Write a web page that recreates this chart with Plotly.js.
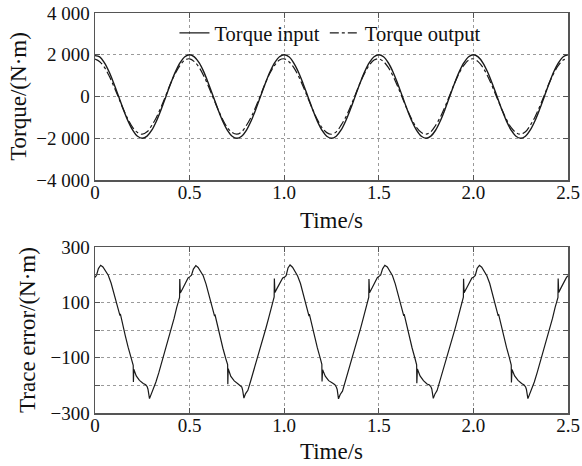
<!DOCTYPE html>
<html>
<head>
<meta charset="utf-8">
<script src="https://cdn.plot.ly/plotly-3.0.1.min.js"></script>
<style>html,body{margin:0;padding:0;background:#fff;}#chart{width:582px;height:466px;}</style>
</head>
<body>
<div id="chart"></div>
<script>
// ---- Data ----
const torqueTime = [0,0.025,0.05,0.075,0.1,0.125,0.15,0.175,0.2,0.225,0.25,0.275,0.3,0.325,0.35,0.375,0.4,0.425,0.45,0.475,
0.5,0.525,0.55,0.575,0.6,0.625,0.65,0.675,0.7,0.725,0.75,0.775,0.8,0.825,0.85,0.875,0.9,0.925,0.95,0.975,
1.0,1.025,1.05,1.075,1.1,1.125,1.15,1.175,1.2,1.225,1.25,1.275,1.3,1.325,1.35,1.375,1.4,1.425,1.45,1.475,
1.5,1.525,1.55,1.575,1.6,1.625,1.65,1.675,1.7,1.725,1.75,1.775,1.8,1.825,1.85,1.875,1.9,1.925,1.95,1.975,
2.0,2.025,2.05,2.075,2.1,2.125,2.15,2.175,2.2,2.225,2.25,2.275,2.3,2.325,2.35,2.375,2.4,2.425,2.45,2.475,2.5];

const torqueInput = [1960,1900,1615,1175,615,0,-620,-1180,-1620,-1905,-2000,-1900,-1615,-1170,-615,5,620,1180,1620,1905,
2000,1900,1618,1178,612,-5,-618,-1178,-1620,-1902,-2000,-1902,-1618,-1172,-612,8,622,1182,1622,1905,
2000,1902,1615,1176,614,-2,-619,-1180,-1618,-1904,-2000,-1901,-1616,-1171,-614,6,621,1181,1620,1904,
2000,1901,1617,1177,613,-3,-620,-1179,-1621,-1903,-2000,-1900,-1617,-1170,-613,7,620,1180,1621,1906,
2000,1900,1616,1175,615,-1,-620,-1181,-1619,-1905,-2000,-1902,-1615,-1172,-615,5,622,1182,1620,1905,2000];

const torqueOutput = [1790,1668,1393,983,480,-70,-615,-1105,-1492,-1730,-1807,-1692,-1387,-990,-490,63,630,1120,1500,1745,
1805,1670,1396,986,478,-72,-612,-1103,-1495,-1728,-1806,-1694,-1389,-988,-488,66,632,1122,1502,1747,
1806,1668,1392,984,482,-69,-614,-1106,-1493,-1731,-1808,-1693,-1386,-991,-491,64,629,1119,1501,1744,
1804,1671,1395,985,479,-71,-616,-1104,-1494,-1729,-1805,-1691,-1388,-989,-489,65,631,1121,1499,1746,
1805,1669,1394,982,481,-70,-613,-1105,-1491,-1730,-1807,-1692,-1387,-990,-490,63,630,1120,1500,1745,1802];

const errorTime = [
0.000,0.008,0.018,0.030,0.042,0.056,0.070,0.085,0.100,0.115,0.128,0.132,0.134,0.145,0.160,0.175,0.190,0.202,0.203,0.205,0.218,0.235,0.255,0.268,0.276,0.280,0.288,0.297,0.308,0.322,0.337,0.352,0.366,0.380,0.390,0.392,0.404,0.418,0.432,0.447,0.448,0.451,0.465,0.480,0.492,
0.500,0.510,0.520,0.533,0.545,0.558,0.572,0.587,0.602,0.617,0.629,0.632,0.634,0.646,0.661,0.676,0.691,0.701,0.702,0.704,0.718,0.736,0.755,0.768,0.776,0.780,0.787,0.796,0.808,0.822,0.837,0.852,0.866,0.880,0.890,0.892,0.904,0.918,0.932,0.947,0.948,0.951,0.965,0.980,0.992,
1.000,1.010,1.020,1.031,1.044,1.057,1.071,1.086,1.101,1.116,1.128,1.131,1.133,1.145,1.160,1.175,1.190,1.199,1.200,1.203,1.217,1.235,1.255,1.268,1.276,1.280,1.287,1.296,1.308,1.322,1.337,1.352,1.366,1.380,1.390,1.392,1.404,1.418,1.432,1.447,1.448,1.451,1.465,1.480,1.492,
1.500,1.510,1.520,1.532,1.545,1.558,1.572,1.587,1.602,1.617,1.629,1.632,1.634,1.646,1.661,1.676,1.691,1.700,1.701,1.704,1.718,1.736,1.755,1.768,1.776,1.780,1.788,1.797,1.808,1.822,1.837,1.852,1.866,1.880,1.890,1.892,1.904,1.918,1.932,1.947,1.948,1.951,1.965,1.980,1.992,
2.000,2.010,2.020,2.032,2.044,2.057,2.071,2.086,2.101,2.116,2.128,2.131,2.133,2.145,2.160,2.175,2.190,2.200,2.201,2.204,2.218,2.236,2.255,2.268,2.276,2.280,2.288,2.297,2.308,2.322,2.337,2.352,2.366,2.380,2.390,2.392,2.404,2.418,2.432,2.447,2.448,2.451,2.465,2.480,2.492,2.500];

const errorValue = [
190,198,222,234,228,214,198,170,132,92,60,52,58,22,-20,-62,-100,-128,-188,-142,-166,-182,-193,-198,-205,-214,-248,-232,-220,-188,-155,-118,-84,-52,-34,-24,6,42,82,118,184,134,152,172,188,
192,198,220,233,226,213,196,166,128,88,58,50,56,18,-24,-66,-103,-125,-196,-140,-168,-184,-194,-200,-206,-216,-246,-230,-218,-186,-152,-116,-82,-50,-32,-22,8,44,84,120,186,136,154,174,188,
190,196,224,235,227,212,195,168,130,90,58,50,57,20,-22,-64,-101,-124,-186,-144,-167,-183,-192,-198,-207,-215,-249,-233,-221,-189,-154,-117,-83,-51,-33,-23,7,43,83,119,184,135,153,173,189,
193,199,221,234,228,214,197,167,129,89,59,51,57,19,-23,-65,-102,-126,-192,-141,-166,-183,-195,-199,-206,-213,-247,-231,-219,-187,-153,-117,-83,-51,-33,-23,7,43,83,119,185,135,153,173,188,
191,197,223,234,227,213,196,169,131,91,59,51,57,21,-21,-63,-100,-127,-190,-143,-166,-182,-193,-199,-206,-214,-248,-232,-220,-188,-154,-118,-84,-52,-34,-24,6,42,82,118,186,136,155,176,190,196];

const xTickVals = [0,0.5,1,1.5,2,2.5];
const xTickText = ['0','0.5','1.0','1.5','2.0','2.5'];
const y1TickVals = [-4000,-2000,0,2000,4000];
const y1TickText = ['\u22124 000','\u22122 000','0','2 000','4 000'];
const y2TickVals = [-300,-200,-100,0,100,200,300];
const y2TickText = ['\u2212300','','\u2212100','','100','','300'];

// ---- Plot ----
const lineCol = '#1a1a1a';
const traces = [
  {x: torqueTime, y: torqueInput, name: 'Torque input', type: 'scatter', mode: 'lines',
   line: {color: lineCol, width: 1.4, shape: 'spline'}, xaxis: 'x', yaxis: 'y'},
  {x: torqueTime, y: torqueOutput, name: 'Torque output', type: 'scatter', mode: 'lines',
   line: {color: lineCol, width: 1.2, dash: 'dashdot', shape: 'spline'}, xaxis: 'x', yaxis: 'y'},
  {x: errorTime, y: errorValue, name: 'Trace error', type: 'scatter', mode: 'lines', showlegend: false,
   line: {color: lineCol, width: 1.2}, xaxis: 'x2', yaxis: 'y2'}
];

const axisCommon = {
  ticks: 'inside', ticklen: 5, tickwidth: 1, tickcolor: '#555',
  mirror: 'ticks', showline: true, linecolor: '#555', linewidth: 1.5,
  showgrid: true, gridcolor: '#9a9a9a', griddash: 'dot', gridwidth: 1,
  zeroline: false, tickfont: {size: 19, color: '#111'}
};

const layout = {
  width: 582, height: 466,
  margin: {l: 95, r: 14, t: 13, b: 53},
  paper_bgcolor: '#fff', plot_bgcolor: '#fff',
  font: {family: '"Liberation Serif", "Times New Roman", serif', size: 19, color: '#111'},
  showlegend: true,
  legend: {orientation: 'h', x: 0.168, xanchor: 'left', y: 0.95, yanchor: 'middle',
           bgcolor: 'rgba(0,0,0,0)', font: {size: 20.5}, itemwidth: 30, tracegroupgap: 0},
  xaxis: Object.assign({}, axisCommon, {domain: [0, 1], anchor: 'y', range: [0, 2.5],
          ticklabelstandoff: -5,
          tickvals: xTickVals, ticktext: xTickText, title: {text: 'Time/s', standoff: 9}}),
  yaxis: Object.assign({}, axisCommon, {domain: [0.5825, 1], anchor: 'x', range: [-4000, 4000],
          tickvals: y1TickVals, ticktext: y1TickText, title: {text: 'Torque/(N·m)', standoff: 3}}),
  xaxis2: Object.assign({}, axisCommon, {domain: [0, 1], anchor: 'y2', range: [0, 2.5],
          ticklabelstandoff: -5,
          tickvals: xTickVals, ticktext: xTickText, title: {text: 'Time/s', standoff: 7}}),
  yaxis2: Object.assign({}, axisCommon, {domain: [0, 0.415], anchor: 'x2', range: [-300, 300],
          tickvals: y2TickVals, ticktext: y2TickText, title: {text: 'Trace error/(N·m)', standoff: 8}})
};

Plotly.newPlot('chart', traces, layout, {displayModeBar: false, staticPlot: true});
</script>
</body>
</html>
